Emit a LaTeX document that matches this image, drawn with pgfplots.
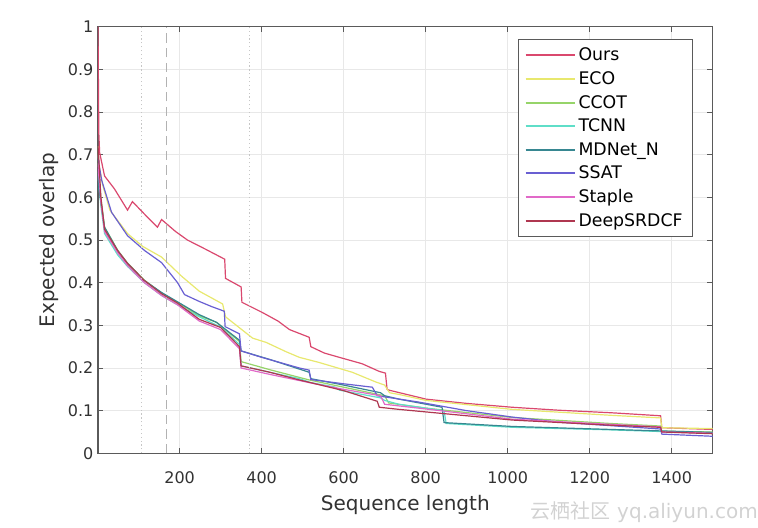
\documentclass[border=0pt]{standalone}
\usepackage{pgfplots}
\pgfplotsset{compat=1.18}
\usepackage{fontspec}
\setmainfont{DejaVu Sans}
\newfontfamily\cjk{Noto Sans CJK SC}

\definecolor{cOurs}{RGB}{218,72,110}
\definecolor{cECO}{RGB}{232,232,110}
\definecolor{cCCOT}{RGB}{150,212,105}
\definecolor{cTCNN}{RGB}{95,222,200}
\definecolor{cMDNet}{RGB}{55,135,145}
\definecolor{cSSAT}{RGB}{105,95,210}
\definecolor{cStaple}{RGB}{225,105,200}
\definecolor{cDeep}{RGB}{175,55,80}
\definecolor{axgray}{RGB}{90,90,90}
\definecolor{txtgray}{RGB}{50,50,50}

\begin{document}
\begin{tikzpicture}
\begin{axis}[
  scale only axis,
  width=461pt, height=320pt,
  xmin=1, xmax=1500, ymin=0, ymax=1,
  xtick={200,400,...,1400},
  ytick={0,0.1,...,1},
  yticklabels={0,0.1,0.2,0.3,0.4,0.5,0.6,0.7,0.8,0.9,1},
  /pgf/number format/1000 sep={},
  tick align=inside,
  major tick length=4pt,
  tick style={axgray, line width=0.6pt},
  axis line style={axgray, line width=0.8pt},
  grid=major,
  major grid style={gray!18, line width=0.6pt},
  ticklabel style={font=\fontsize{12}{14}\selectfont, text=txtgray},
  xticklabel style={yshift=-10pt},
  /pgf/number format/assume math mode=true,
  xlabel={Sequence length},
  ylabel={Expected overlap},
  label style={font=\fontsize{15}{17}\selectfont, text=txtgray},
  xlabel style={yshift=-2pt},
  legend style={at={(0.967,0.97)}, anchor=north east,
    draw=axgray, line width=0.6pt, fill=white,
    font=\fontsize{13}{15}\selectfont,
    row sep=2.6pt, inner xsep=5pt, inner ysep=4pt},
  legend cell align=left,
  legend image code/.code={\draw[#1, line width=1.4pt] (0cm,0cm) -- (1.3cm,0cm);},
  every axis plot/.append style={line width=0.9pt},
]
% Ours
\addplot[color=cOurs] coordinates {
(1,1) (3,0.75) (5,0.705) (17,0.65) (41,0.62) (73,0.57) (85,0.59) (115,0.56)
(146,0.53) (156,0.548) (190,0.52) (219,0.50) (260,0.48) (310,0.455) (312,0.41)
(350,0.39) (352,0.354) (402,0.33) (440,0.31) (468,0.29) (516,0.272) (520,0.25)
(553,0.235) (582,0.227) (645,0.21) (687,0.192) (702,0.188) (706,0.15) (711,0.148)
(784,0.131) (801,0.127) (900,0.117) (1011,0.108) (1125,0.101) (1254,0.095)
(1373,0.088) (1376,0.06) (1500,0.056)};
\addlegendentry{Ours}

% ECO
\addplot[color=cECO] coordinates {
(1,0.72) (3,0.68) (12,0.63) (30,0.57) (73,0.515) (110,0.485) (156,0.46)
(205,0.415) (248,0.38) (305,0.35) (312,0.32) (378,0.27) (411,0.26) (460,0.238)
(492,0.225) (540,0.213) (621,0.19) (679,0.167) (700,0.16) (712,0.142) (735,0.138)
(801,0.124) (1011,0.103) (1254,0.089) (1373,0.083) (1376,0.06) (1500,0.058)};
\addlegendentry{ECO}

% CCOT
\addplot[color=cCCOT] coordinates {
(1,0.7) (3,0.66) (8,0.6) (17,0.53) (49,0.476) (73,0.446) (114,0.406)
(156,0.376) (195,0.354) (248,0.322) (290,0.307) (346,0.262) (350,0.215)
(420,0.196) (516,0.172) (600,0.155) (700,0.135) (710,0.118) (800,0.106)
(1011,0.084) (1250,0.07) (1373,0.064) (1376,0.052) (1500,0.05)};
\addlegendentry{CCOT}

% TCNN
\addplot[color=cTCNN] coordinates {
(1,0.66) (3,0.63) (8,0.58) (17,0.515) (49,0.465) (73,0.438) (114,0.4)
(156,0.37) (195,0.348) (248,0.32) (300,0.296) (346,0.255) (350,0.205)
(420,0.19) (492,0.175) (520,0.166) (580,0.155) (590,0.148) (690,0.13)
(700,0.124) (735,0.115) (845,0.1) (850,0.07) (1011,0.061) (1250,0.055) (1500,0.047)};
\addlegendentry{TCNN}

% MDNet_N
\addplot[color=cMDNet] coordinates {
(1,0.65) (3,0.62) (8,0.59) (17,0.53) (49,0.475) (73,0.445) (114,0.405)
(156,0.377) (195,0.355) (248,0.325) (290,0.307) (346,0.265) (350,0.24)
(420,0.22) (516,0.19) (520,0.175) (600,0.16) (690,0.142) (700,0.135)
(735,0.127) (840,0.108) (845,0.072) (1011,0.063) (1250,0.056) (1500,0.049)};
\addlegendentry{MDNet\_N}

% SSAT
\addplot[color=cSSAT] coordinates {
(1,0.7) (3,0.68) (10,0.64) (34,0.565) (73,0.51) (115,0.475) (156,0.447)
(195,0.40) (212,0.372) (248,0.356) (278,0.344) (309,0.333) (311,0.297)
(346,0.28) (350,0.24) (400,0.225) (492,0.2) (516,0.195) (520,0.173)
(600,0.163) (670,0.155) (682,0.135) (784,0.12) (900,0.1) (1011,0.085)
(1125,0.073) (1373,0.057) (1376,0.045) (1500,0.04)};
\addlegendentry{SSAT}

% Staple
\addplot[color=cStaple] coordinates {
(1,0.68) (3,0.65) (8,0.59) (17,0.52) (49,0.47) (73,0.44) (114,0.4)
(156,0.37) (195,0.348) (248,0.31) (300,0.29) (346,0.245) (350,0.2)
(420,0.185) (520,0.165) (600,0.15) (690,0.135) (700,0.115) (800,0.104)
(1011,0.08) (1250,0.068) (1373,0.062) (1376,0.05) (1500,0.047)};
\addlegendentry{Staple}

% DeepSRDCF
\addplot[color=cDeep] coordinates {
(1,0.72) (3,0.69) (8,0.6) (17,0.525) (49,0.475) (73,0.445) (114,0.405)
(156,0.374) (195,0.352) (248,0.314) (300,0.295) (346,0.25) (350,0.205)
(420,0.19) (492,0.172) (600,0.147) (682,0.122) (687,0.108) (735,0.103)
(1011,0.078) (1250,0.066) (1373,0.061) (1376,0.05) (1500,0.046)};
\addlegendentry{DeepSRDCF}

% interval markers of the sequence-length range
\addplot[forget plot, gray!45, dotted, line width=0.8pt] coordinates {(108,0) (108,1)};
\addplot[forget plot, gray!45, dotted, line width=0.8pt] coordinates {(371,0) (371,1)};
\addplot[forget plot, gray!60, dashed, dash pattern=on 7pt off 4pt, line width=0.8pt] coordinates {(168,0) (168,1)};
\end{axis}
\node[anchor=south east, text=gray!35, font=\fontsize{15}{17}\selectfont, inner sep=0pt]
  at (495pt,-52pt) {{\cjk 云栖社区} yq.aliyun.com};
\path[use as bounding box] (-73.5pt,-56pt) rectangle (495pt,340pt);
\end{tikzpicture}
\end{document}
